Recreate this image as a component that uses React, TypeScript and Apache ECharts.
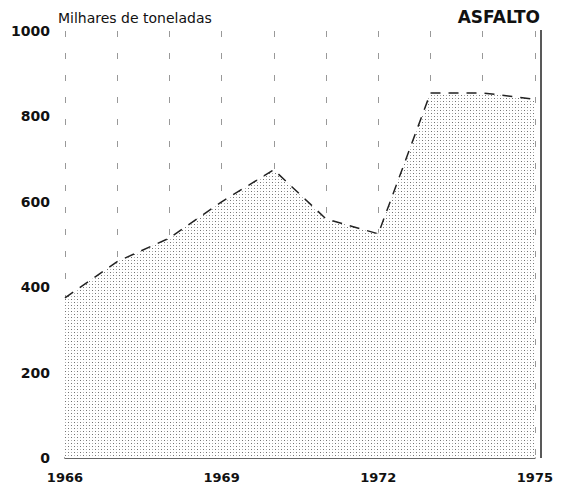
import React, { useEffect, useRef } from "react";
import * as echarts from "echarts";

const years = ["1966", "1967", "1968", "1969", "1970", "1971", "1972", "1973", "1974", "1975"];
const asfalto = [375, 460, 515, 600, 675, 560, 525, 855, 855, 840];
const yTicks = [0, 200, 400, 600, 800, 1000];

function makePattern(): HTMLCanvasElement {
  const c = document.createElement("canvas");
  c.width = 6;
  c.height = 6;
  const ctx = c.getContext("2d")!;
  ctx.fillStyle = "#ffffff";
  ctx.fillRect(0, 0, 6, 6);
  ctx.fillStyle = "#707070";
  ctx.fillRect(0, 0, 1, 1);
  ctx.fillRect(3, 3, 1, 1);
  ctx.fillStyle = "#b0b0b0";
  ctx.fillRect(3, 0, 1, 1);
  ctx.fillRect(0, 3, 1, 1);
  return c;
}

export default function App() {
  const ref = useRef<HTMLDivElement>(null);
  useEffect(() => {
    if (!ref.current) return;
    const chart = echarts.init(ref.current, null, { renderer: "svg" });
    const font = "'DejaVu Sans', sans-serif";
    chart.setOption({
      animation: false,
      backgroundColor: "#ffffff",
      grid: { left: 52, right: 15, top: 23, bottom: 28 },
      graphic: [
        {
          type: "text",
          left: 50,
          top: 3,
          style: { text: "Milhares de toneladas", fontSize: 14, fontFamily: font, fill: "#111" },
        },
        {
          type: "text",
          right: 16,
          top: 0,
          style: { text: "ASFALTO", fontSize: 17, fontWeight: "bold", fontFamily: font, fill: "#111" },
        },
        {
          type: "line",
          shape: { x1: 533, y1: 22, x2: 533, y2: 450 },
          style: { stroke: "#222", lineWidth: 1.5 },
        },
      ],
      xAxis: {
        type: "category",
        data: years,
        boundaryGap: false,
        axisLine: { show: true, lineStyle: { color: "#333", width: 1.5 } },
        axisTick: { show: false },
        axisLabel: {
          interval: 2,
          margin: 13,
          fontSize: 13,
          fontWeight: "bold",
          fontFamily: font,
          color: "#111",
        },
        splitLine: {
          show: true,
          interval: 0,
          lineStyle: { color: "#999", type: [6, 16], width: 1 },
        },
      },
      yAxis: {
        type: "value",
        min: 0,
        max: 1000,
        interval: 200,
        axisLine: { show: false },
        axisTick: { show: false },
        splitLine: { show: false },
        axisLabel: {
          margin: 15,
          fontSize: 14,
          fontWeight: "bold",
          fontFamily: font,
          color: "#111",
          formatter: (v: number) => (yTicks.includes(v) ? String(v) : ""),
        },
      },
      series: [
        {
          type: "line",
          data: asfalto,
          symbol: "none",
          lineStyle: { color: "#222", width: 1.5, type: [10, 8] },
          areaStyle: { color: { image: makePattern(), repeat: "repeat" }, opacity: 1 },
        },
      ],
    });
    return () => chart.dispose();
  }, []);
  return <div ref={ref} style={{ width: 548, height: 478 }} />;
}
